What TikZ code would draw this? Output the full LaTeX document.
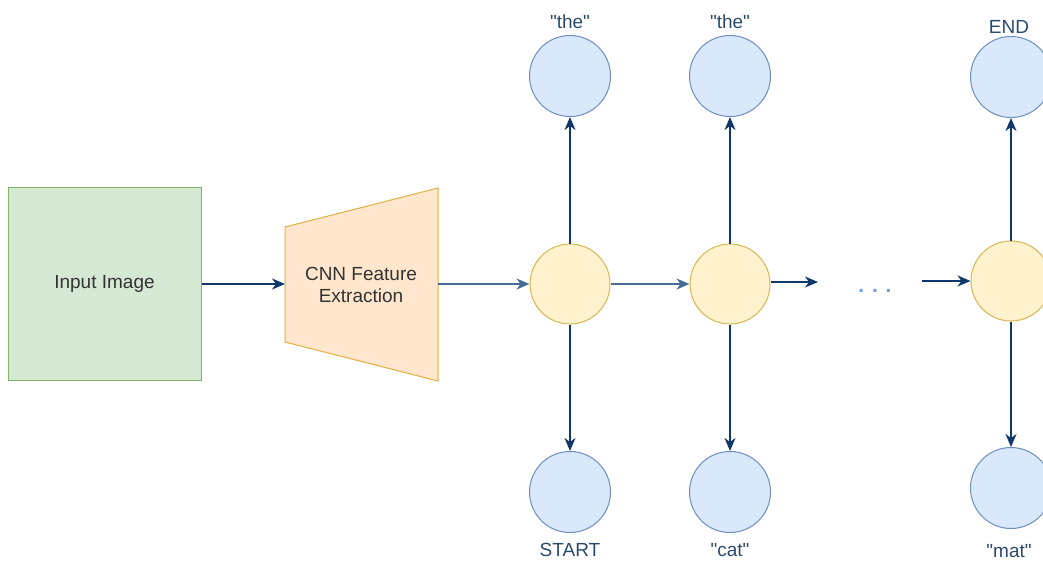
\documentclass[tikz,border=0pt]{standalone}
\usepackage{fontspec}
\setmainfont{Liberation Sans}
\usetikzlibrary{arrows.meta}
\definecolor{imgfill}{HTML}{D5E8D4}
\definecolor{imgline}{HTML}{82B366}
\definecolor{cnnfill}{HTML}{FFE6CC}
\definecolor{cnnline}{HTML}{E0B040}
\definecolor{cellfill}{HTML}{FFF2CC}
\definecolor{cellline}{HTML}{D6B656}
\definecolor{tokfill}{HTML}{DAE8FC}
\definecolor{tokline}{HTML}{6C8EBF}
\definecolor{wire}{HTML}{10386A}
\definecolor{softwire}{HTML}{4A6D96}
\definecolor{toktext}{HTML}{2B4A6B}
\definecolor{bodytext}{HTML}{333333}
\definecolor{dots}{HTML}{6F9BE0}
\tikzset{
  txt/.style={font=\fontsize{19}{22}\selectfont},
  imgbox/.style={draw=imgline, fill=imgfill, line width=1pt, minimum width=193pt,
    minimum height=193pt, inner sep=0pt, txt, text=bodytext},
  cell/.style={circle, draw=cellline, fill=cellfill, line width=1pt,
    minimum size=80pt, inner sep=0pt},
  tok/.style={circle, draw=tokline, fill=tokfill, line width=1pt,
    minimum size=81pt, inner sep=0pt},
  toklabel/.style={txt, text=toktext, inner sep=0pt},
  arr/.style={draw=wire, line width=1.8pt,
    -{Stealth[length=13pt, width=11pt, inset=4pt]}},
  softarr/.style={draw=softwire, line width=2.8pt,
    -{Stealth[length=13pt, width=11pt, inset=4pt]}}
}
\newcommand{\q}[1]{\textquotedbl#1\textquotedbl}
\begin{document}
\begin{tikzpicture}[x=1pt, y=-1pt]
\useasboundingbox (0,0) rectangle (1043,563);
\clip (0,0) rectangle (1043,563);

% input image
\node[imgbox] (img) at (104.5,284) {Input Image};

% CNN feature extractor (trapezoid widening to the right)
\coordinate (cnnL) at (285,284);
\coordinate (cnnR) at (438,284);
\draw[draw=cnnline, fill=cnnfill, line width=1pt]
  (285,227) -- (438,188) -- (438,381) -- (285,342) -- cycle;
\node[txt, text=bodytext, align=center, inner sep=0pt] (cnn) at (361,285)
  {CNN Feature\\Extraction};

% recurrent cells
\node[cell] (y1) at (570,284) {};
\node[cell] (y2) at (730,284) {};
\node[cell] (y3) at (1011,281) {};

% output tokens (top) and input tokens (bottom)
\node[tok] (t1) at (570,76) {};
\node[tok] (t2) at (730,76) {};
\node[tok] (t3) at (1011,77) {};
\node[tok] (b1) at (570,492) {};
\node[tok] (b2) at (730,492) {};
\node[tok] (b3) at (1011,488) {};

\node[toklabel] (l1) at (570,22) {\q{the}};
\node[toklabel] (l2) at (730,22) {\q{the}};
\node[toklabel] (l3) at (1009,27) {END};
\node[toklabel] (l4) at (570,550) {START};
\node[toklabel] (l5) at (730,550) {\q{cat}};
\node[toklabel] (l6) at (1009,551) {\q{mat}};

% ellipsis between unrolled steps
\node[font=\fontsize{21}{22}\selectfont\bfseries, text=dots, inner sep=0pt] (gap) at (875,291) {. . .};
\coordinate (runout) at (818,282);
\coordinate (runin) at (922,281);

% connectors
\draw[arr] (img) -- (cnnL);
\draw[softarr] (cnnR) -- (y1);
\draw[softarr] (y1) -- (y2);
\draw[arr] (y2.east |- runout) -- (runout);
\draw[arr] (runin) -- (y3);

\draw[arr] (y1) -- (t1);
\draw[arr] (y2) -- (t2);
\draw[arr] (y3) -- (t3);
\draw[arr] (y1) -- (b1);
\draw[arr] (y2) -- (b2);
\draw[arr] (y3) -- (b3);
\end{tikzpicture}
\end{document}
